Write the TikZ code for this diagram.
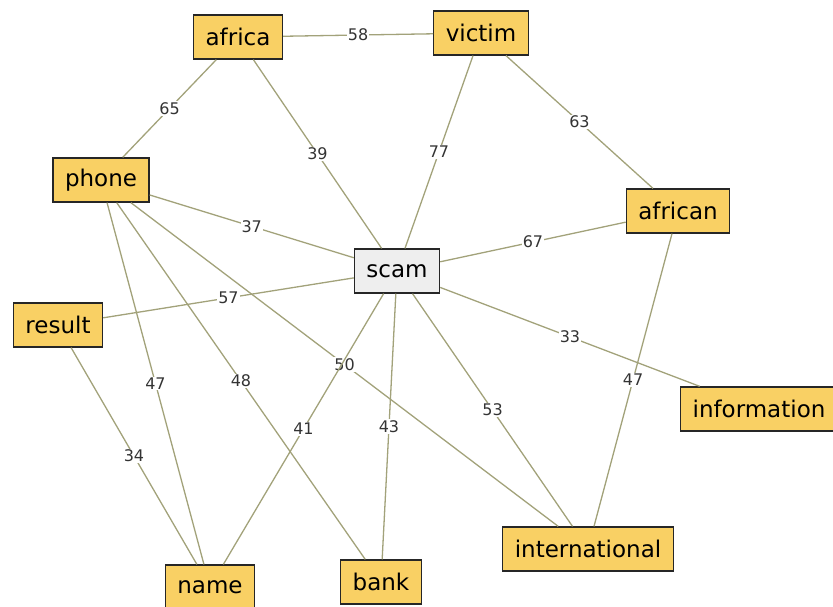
\documentclass[tikz,border=0pt]{standalone}
\usepackage{fontspec}
\setmainfont{DejaVu Sans}
\definecolor{wordfill}{HTML}{F9D064}
\definecolor{hubfill}{HTML}{EEEEEE}
\definecolor{edgecol}{HTML}{A2A27A}
\begin{document}
\begin{tikzpicture}[x=1pt,y=-1pt,
  word/.style={draw=black!85,fill=wordfill,line width=1.3pt,minimum height=44pt,inner xsep=12pt,font=\fontsize{23}{23}\selectfont},
  hub/.style={word,fill=hubfill},
  link/.style={draw=edgecol,line width=1.3pt},
  wt/.style={fill=white,inner sep=1pt,text=black!80,font=\fontsize{16}{16}\selectfont}]
\useasboundingbox (0,0) rectangle (833,606);
% nodes
\node[hub] (scam) at (397,271) {scam};
\node[word] (africa) at (238,37) {africa};
\node[word] (victim) at (481,33) {victim};
\node[word] (phone) at (101,180) {phone};
\node[word] (african) at (678,211) {african};
\node[word] (result) at (58,325) {result};
\node[word] (information) at (759,409) {information};
\node[word] (name) at (210,587) {name};
\node[word] (bank) at (381,582) {bank};
\node[word] (international) at (588,549) {international};
% edges
\draw[link] (africa) -- node[wt] {58} (victim);
\draw[link] (africa) -- node[wt] {65} (phone);
\draw[link] (africa) -- node[wt] {39} (scam);
\draw[link] (victim) -- node[wt] {77} (scam);
\draw[link] (victim) -- node[wt] {63} (african);
\draw[link] (phone) -- node[wt] {37} (scam);
\draw[link] (african) -- node[wt] {67} (scam);
\draw[link] (result) -- node[wt] {57} (scam);
\draw[link] (scam) -- node[wt] {33} (information);
\draw[link] (african) -- node[wt] {47} (international);
\draw[link] (phone) -- node[wt] {47} (name);
\draw[link] (phone) -- node[wt] {48} (bank);
\draw[link] (phone) -- node[wt] {50} (international);
\draw[link] (scam) -- node[wt] {41} (name);
\draw[link] (scam) -- node[wt] {43} (bank);
\draw[link] (scam) -- node[wt] {53} (international);
\draw[link] (result) -- node[wt] {34} (name);
\end{tikzpicture}
\end{document}
